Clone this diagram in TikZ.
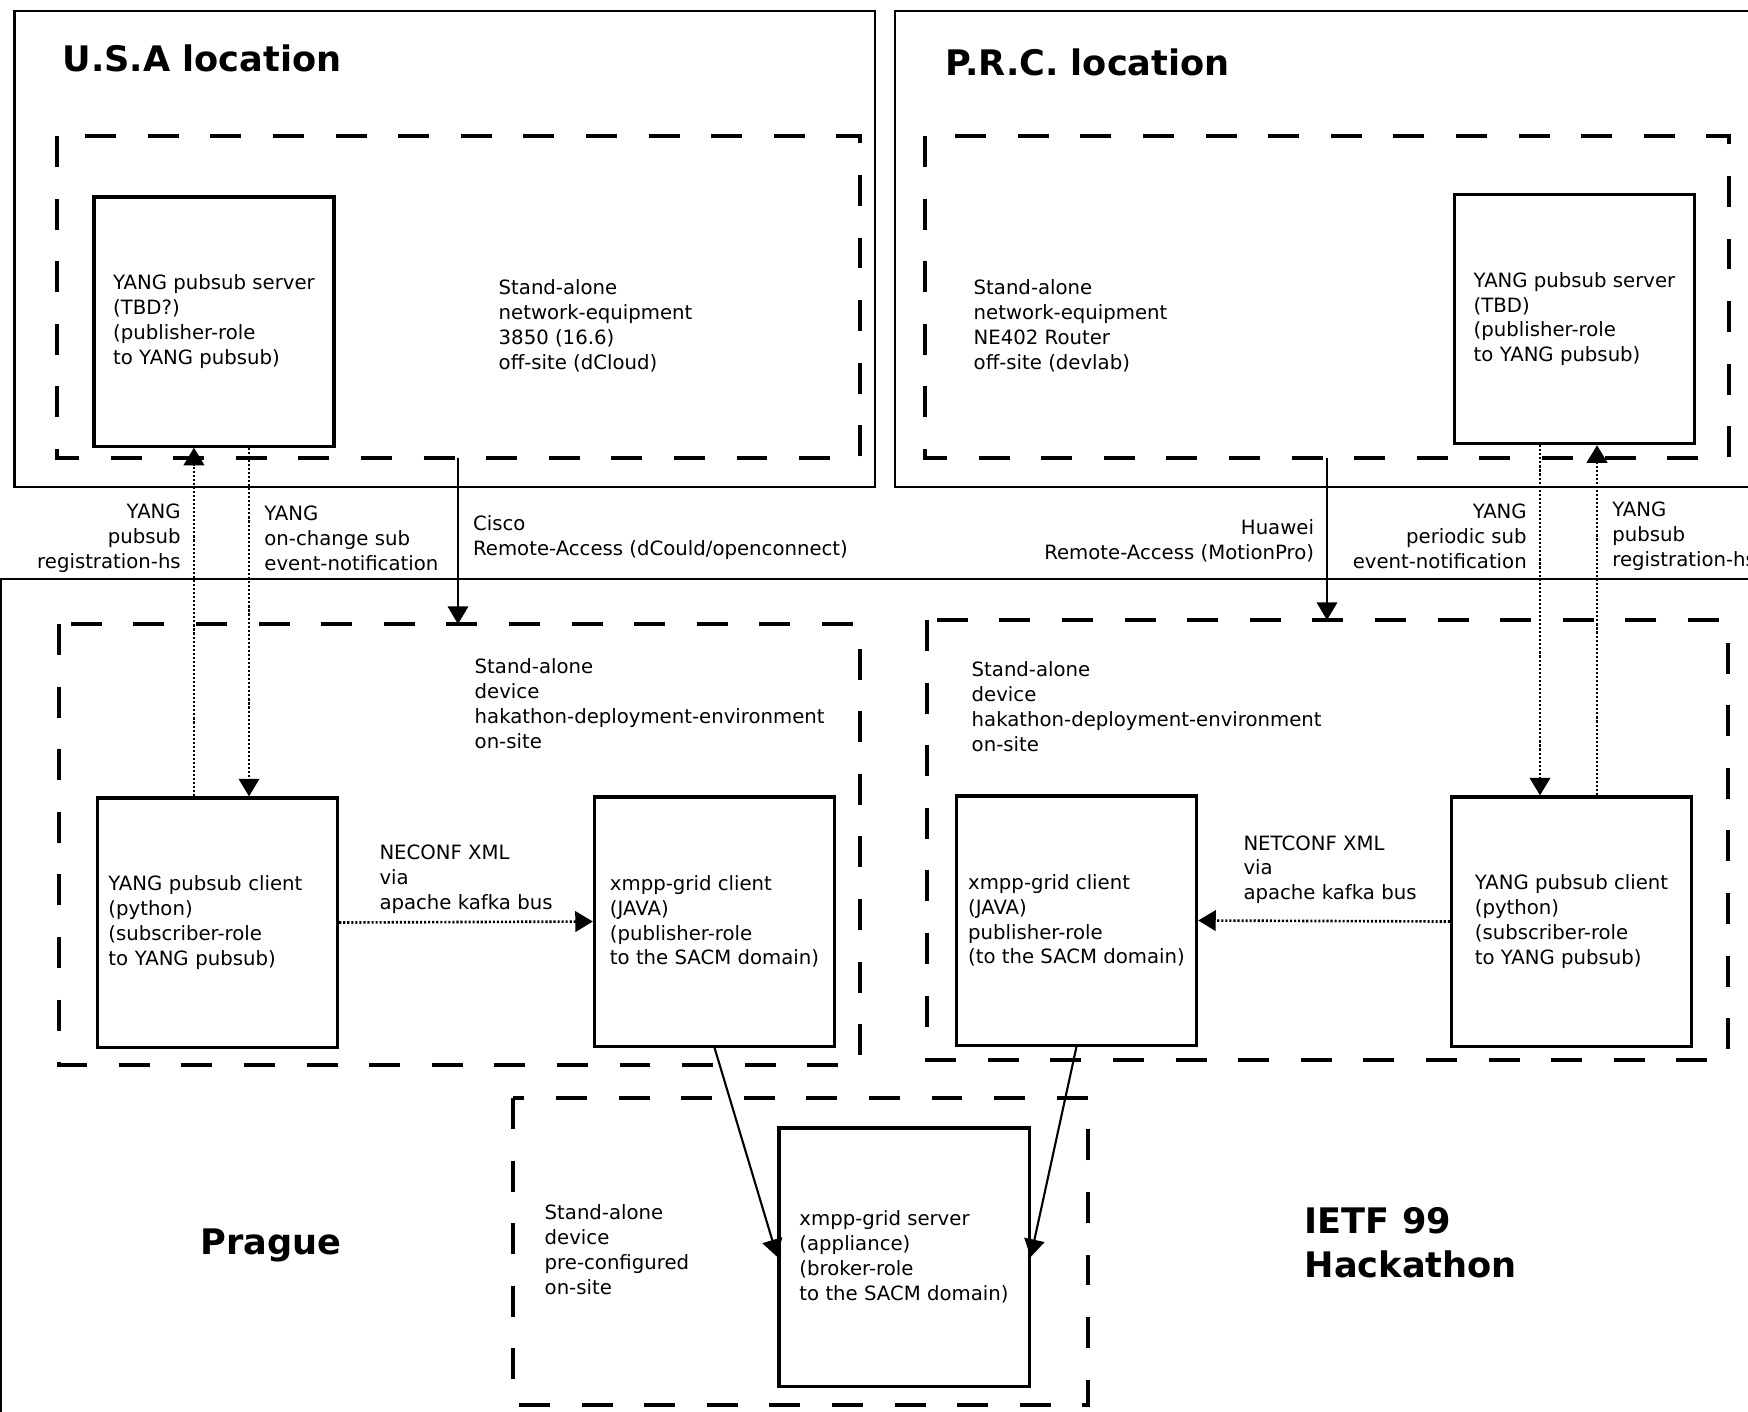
\documentclass[tikz,border=0pt]{standalone}
\usepackage{fontspec}
\setmainfont{DejaVu Sans}
\usetikzlibrary{arrows.meta}
\newcommand{\boxfont}{\fontsize{5.6pt}{7.06pt}\selectfont}
\newcommand{\headfont}{\fontsize{10pt}{12.5pt}\selectfont\bfseries}
\tikzset{sitebox/.style = {line width=0.65pt},
         devzone/.style = {line width=1pt, dash pattern=on 8.8pt off 9pt},
         compbox/.style = {draw, line width=0.9pt, align=left, font=\boxfont,
                           minimum width=2.4cm, minimum height=2.49cm, inner sep=0pt},
         lbl/.style = {font=\boxfont, inner sep=1pt},
         headline/.style = {font=\headfont, inner sep=0pt, align=left},
         flowtip/.style = {-{Triangle[length=5pt, width=5.8pt]}},
         regflow/.style = {flowtip, line width=0.75pt, dash pattern=on 0.6pt off 0.55pt},
         pushflow/.style = {flowtip, line width=0.6pt}}

\begin{document}
\begin{tikzpicture}[x=0.01cm, y=-0.01cm]
    \clip (0, 0) rectangle (1748, 1411);

    \draw [sitebox] (14.5, 11) rectangle (875, 487);
    \draw [sitebox] (895, 11) rectangle (1770, 487);
    \draw [sitebox] (1, 579) rectangle (1770, 1430);

    \draw [devzone] (57, 136) rectangle (860, 458);
    \draw [devzone] (925, 136) rectangle (1729, 458);
    \draw [devzone] (59, 624) rectangle (860, 1065);
    \draw [devzone] (927, 620) rectangle (1728, 1060);
    \draw [devzone] (513, 1098) rectangle (1088, 1405);

    \node [headline, anchor=base west] (usatitle) at (62, 71) {U.S.A location};
    \node [headline, anchor=base west] (prctitle) at (945, 75) {P.R.C. location};
    \node [headline, anchor=base west] (pragtitle) at (200, 1254) {Prague};
    \node [headline, anchor=north west] (ietftitle) at (1304, 1207) {IETF 99\\Hackathon};

    \node [lbl, inner sep=0pt, align=left, anchor=north west] (usaeq) at (498, 279)
        {Stand-alone\\network-equipment\\3850 (16.6)\\off-site (dCloud)};
    \node [lbl, inner sep=0pt, align=left, anchor=north west] (prceq) at (973, 279)
        {Stand-alone\\network-equipment\\NE402 Router\\off-site (devlab)};
    \node [lbl, inner sep=0pt, align=left, anchor=north west] (hackl) at (474, 658)
        {Stand-alone\\device\\hakathon-deployment-environment\\on-site};
    \node [lbl, inner sep=0pt, align=left, anchor=north west] (hackr) at (971, 661)
        {Stand-alone\\device\\hakathon-deployment-environment\\on-site};
    \node [lbl, inner sep=0pt, align=left, anchor=north west] (precfg) at (544, 1204)
        {Stand-alone\\device\\pre-configured\\on-site};

    \node [compbox] (usasrv) at (214, 321.5)
        {YANG pubsub server\\(TBD?)\\(publisher-role\\to YANG pubsub)};
    \node [compbox] (prcsrv) at (1574.5, 319)
        {YANG pubsub server\\(TBD)\\(publisher-role\\to YANG pubsub)};
    \node [compbox, inner xsep=0.11cm, text width=2.18cm] (usacli) at (217.5, 922.5)
        {YANG pubsub client\\(python)\\(subscriber-role\\to YANG pubsub)};
    \node [compbox] (xclil) at (714.5, 921.5)
        {xmpp-grid client\\(JAVA)\\(publisher-role\\to the SACM domain)};
    \node [compbox] (xclir) at (1076.5, 920.5)
        {xmpp-grid client\\(JAVA)\\publisher-role\\(to the SACM domain)};
    \node [compbox] (prccli) at (1571.5, 921.5)
        {YANG pubsub client\\(python)\\(subscriber-role\\to YANG pubsub)};
    \node [compbox, minimum width=2.5cm, minimum height=2.58cm] (xsrv) at (904, 1257)
        {xmpp-grid server\\(appliance)\\(broker-role\\to the SACM domain)};

    \coordinate (cisco1) at (458, 458);
    \coordinate (cisco2) at (458, 624);
    \coordinate (huawei1) at (1327, 458);
    \coordinate (huawei2) at (1327, 620);

    \draw [regflow] ([xshift=-0.235cm]usacli.north) -- ([xshift=-0.235cm]usacli.north |- usasrv.south)
        node [lbl, pos=0.74, left=2.4pt, align=right] (usareg) {YANG\\pubsub\\registration-hs};
    \draw [regflow] ([xshift=0.35cm]usasrv.south) -- ([xshift=0.35cm]usasrv.south |- usacli.north)
        node [lbl, pos=0.26, right=3pt, align=left] (usanotif) {YANG\\on-change sub\\event-notification};
    \draw [regflow] ([xshift=-0.345cm]prcsrv.south) -- ([xshift=-0.345cm]prcsrv.south |- prccli.north)
        node [lbl, pos=0.26, left=2.4pt, align=right] (prcnotif) {YANG\\periodic sub\\event-notification};
    \draw [regflow] ([xshift=0.255cm]prccli.north) -- ([xshift=0.255cm]prccli.north |- prcsrv.south)
        node [lbl, pos=0.74, right=3pt, align=left] (prcreg) {YANG\\pubsub\\registration-hs};

    \draw [pushflow] (cisco1) -- (cisco2)
        node [lbl, pos=0.48, right=3pt, align=left] (ciscolbl) {Cisco\\Remote-Access (dCould/openconnect)};
    \draw [pushflow] (huawei1) -- (huawei2)
        node [lbl, pos=0.51, left=2.4pt, align=right] (huaweilbl) {Huawei\\Remote-Access (MotionPro)};

    \draw [regflow] (usacli.east) -- (xclil.west)
        node [lbl, midway, above=1pt, align=left] (busl) {NECONF XML\\via\\apache kafka bus};
    \draw [regflow] (prccli.west) -- (xclir.east)
        node [lbl, midway, above=3.5pt, xshift=0.06cm, align=left] (busr) {NETCONF XML\\via\\apache kafka bus};

    \draw [pushflow] (xclil.south) -- (xsrv.west);
    \draw [pushflow] (xclir.south) -- (xsrv.east);
\end{tikzpicture}
\end{document}
